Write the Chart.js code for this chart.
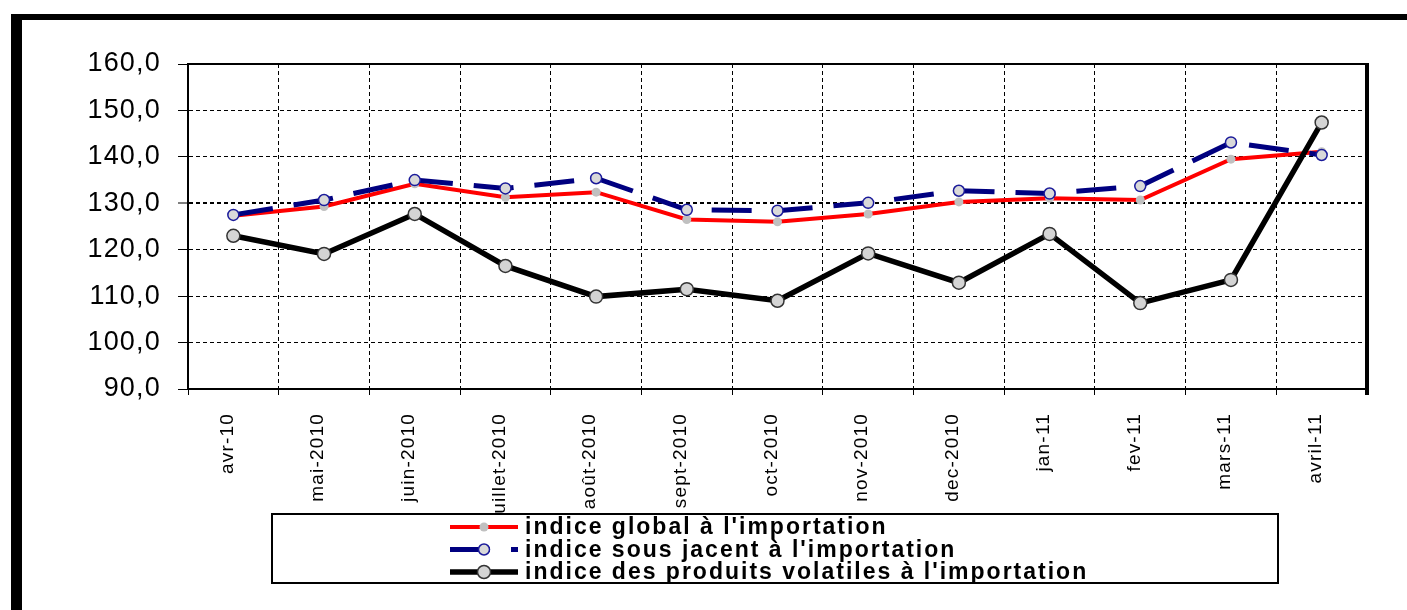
<!DOCTYPE html>
<html><head><meta charset="utf-8">
<script src="https://cdn.jsdelivr.net/npm/chart.js@4.4.1/dist/chart.umd.min.js"></script>
<style>html,body{margin:0;padding:0;background:#fff;overflow:hidden}canvas{display:block}</style>
</head><body>
<canvas id="c" width="1407" height="610"></canvas>
<script>
const categories = ['avr-10','mai-2010','juin-2010','juillet-2010','août-2010','sept-2010','oct-2010','nov-2010','dec-2010','jan-11','fev-11','mars-11','avril-11'];
const globalImport = [127.3,129.3,134.2,131.3,132.4,126.5,126.0,127.7,130.3,131.1,130.7,139.5,141.1];
const sousJacent   = [127.5,130.7,135.0,133.2,135.4,128.6,128.4,130.1,132.7,132.1,133.7,143.1,140.4];
const volatiles    = [123.0,119.1,127.7,116.5,109.9,111.5,109.0,119.2,112.9,123.4,108.5,113.5,147.4];
const seriesNames  = ["indice global à l'importation","indice sous jacent à l'importation","indice des produits volatiles à l'importation"];
const yMin = 90, yMax = 160, yStep = 10;

const FONT = "'Liberation Sans', Arial, sans-serif";

const framePlugin = {
  id: 'frame',
  beforeDraw(chart) {
    const ctx = chart.ctx;
    ctx.save();
    ctx.fillStyle = '#fff';
    ctx.fillRect(0, 0, chart.width, chart.height);
    ctx.fillStyle = '#000';
    ctx.fillRect(11, 14, 11, chart.height - 14);
    ctx.fillRect(11, 14, chart.width - 11, 6);
    ctx.restore();
    ctx.letterSpacing = '1.2px';
  },
  beforeDatasetsDraw(chart) {
    const ctx = chart.ctx, a = chart.chartArea;
    ctx.save();
    ctx.strokeStyle = '#000';
    ctx.lineWidth = 2;
    ctx.beginPath(); ctx.moveTo(a.left - 1, a.top); ctx.lineTo(a.right, a.top); ctx.stroke();
    ctx.lineWidth = 4;
    ctx.beginPath(); ctx.moveTo(a.right, a.top - 1); ctx.lineTo(a.right, a.bottom + 6); ctx.stroke();
    ctx.restore();
  }
};

const legendPlugin = {
  id: 'boxLegend',
  afterDraw(chart) {
    const ctx = chart.ctx;
    const box = {x: 272, y: 514, w: 1006, h: 69};
    ctx.save();
    ctx.fillStyle = '#fff';
    ctx.fillRect(box.x, box.y, box.w, box.h);
    ctx.strokeStyle = '#000';
    ctx.lineWidth = 2;
    ctx.strokeRect(box.x, box.y, box.w, box.h);
    const rows = [527, 549.5, 572];
    const x1 = 450, x2 = 518, xm = 484;
    chart.data.datasets.forEach((ds, i) => {
      const y = rows[i];
      ctx.save();
      ctx.strokeStyle = ds.borderColor;
      ctx.lineWidth = ds.borderWidth;
      ctx.setLineDash(ds.borderDash || []);
      ctx.beginPath(); ctx.moveTo(x1, y); ctx.lineTo(x2, y); ctx.stroke();
      ctx.setLineDash([]);
      ctx.beginPath(); ctx.arc(xm, y, ds.pointRadius, 0, Math.PI * 2);
      ctx.fillStyle = ds.pointBackgroundColor; ctx.fill();
      if (ds.pointBorderWidth) { ctx.lineWidth = ds.pointBorderWidth; ctx.strokeStyle = ds.pointBorderColor; ctx.stroke(); }
      ctx.restore();
      ctx.letterSpacing = '2px';
      ctx.fillStyle = '#000';
      ctx.font = 'bold 23px ' + FONT;
      ctx.textBaseline = 'middle';
      ctx.textAlign = 'left';
      ctx.fillText(ds.label, 525, y + 1);
    });
    ctx.restore();
  }
};

new Chart(document.getElementById('c'), {
  type: 'line',
  data: {
    labels: categories,
    datasets: [
      {label: seriesNames[0], data: globalImport, borderColor: '#ff0000', borderWidth: 4,
       pointRadius: 4.5, pointBackgroundColor: '#c0c0c0', pointBorderColor: '#c0c0c0', pointBorderWidth: 0,
       tension: 0, order: 3},
      {label: seriesNames[1], data: sousJacent, borderColor: '#000080', borderWidth: 5, borderDash: [40, 21],
       pointRadius: 5.5, pointBackgroundColor: '#d9d9d9', pointBorderColor: '#1a1a9a', pointBorderWidth: 1.5,
       tension: 0, order: 2},
      {label: seriesNames[2], data: volatiles, borderColor: '#000000', borderWidth: 5.5,
       pointRadius: 6.5, pointBackgroundColor: '#d4d4d4', pointBorderColor: '#333333', pointBorderWidth: 1.5,
       tension: 0, order: 1}
    ]
  },
  options: {
    responsive: false,
    animation: false,
    layout: {padding: {left: 0, top: 64, right: 40, bottom: 0}},
    plugins: {legend: {display: false}, tooltip: {enabled: false}},
    scales: {
      x: {
        offset: true,
        grid: {offset: true, color: '#000', lineWidth: 1, tickLength: 6, tickColor: '#000', tickWidth: 1, tickBorderDash: []},
        border: {display: true, color: '#000', width: 2, dash: [4, 3]},
        ticks: {autoSkip: false, minRotation: 90, maxRotation: 90, padding: 18, labelOffset: -6,
                color: '#000', font: {family: FONT, size: 19}},
        afterFit(scale) { scale.height = 221; }
      },
      y: {
        min: yMin, max: yMax,
        grid: {color: '#000', lineWidth: (c) => (c.tick && c.tick.value === 130 ? 2 : 1),
               tickLength: 10, tickColor: '#000', tickWidth: 1, tickBorderDash: []},
        border: {display: true, color: '#000', width: 2, dash: [4, 3]},
        ticks: {stepSize: yStep, padding: 17, color: '#000', font: {family: FONT, size: 27},
                callback: (v) => v.toFixed(1).replace('.', ',')},
        afterFit(scale) { scale.width = 188; }
      }
    }
  },
  plugins: [framePlugin, legendPlugin]
});
</script>
</body></html>
